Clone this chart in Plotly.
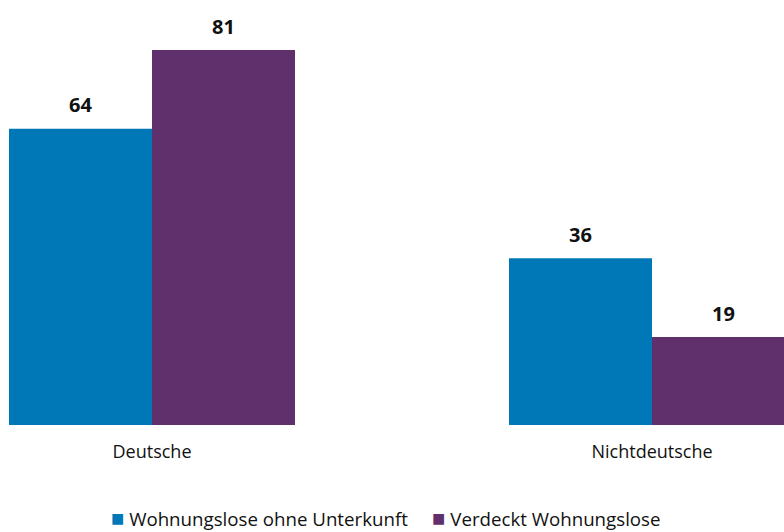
import plotly.graph_objects as go

categories = ["Deutsche", "Nichtdeutsche"]
series_names = ["Wohnungslose ohne Unterkunft", "Verdeckt Wohnungslose"]
ohne_unterkunft = [64, 36]
verdeckt = [81, 19]
colors = ["#0077b6", "#5f306c"]

FONT = "'Open Sans', sans-serif"

fig = go.Figure()
for name, values, color in zip(series_names, [ohne_unterkunft, verdeckt], colors):
    fig.add_trace(
        go.Bar(
            x=categories,
            y=values,
            name=name,
            marker=dict(color=color, line=dict(width=0)),
            hoverinfo="x+y+name",
        )
    )

# value labels above the bars
annotations = []
for i, values in enumerate([ohne_unterkunft, verdeckt]):
    shift = -71.5 if i == 0 else 71.5
    for cat, v in zip(categories, values):
        annotations.append(
            dict(
                x=cat, y=v, xref="x", yref="y",
                text=f"<b>{v}</b>", showarrow=False,
                xshift=shift, yshift=24,
                font=dict(size=20, color="#111111", family=FONT),
            )
        )

# compact legend (plotly's own legend leaves too much room after the swatch)
legend_text = "&nbsp;&nbsp;&nbsp;&nbsp;&nbsp;".join(
    f"<span style='color:{c}; font-size:22px'>■</span>&nbsp;{n}"
    for n, c in zip(series_names, colors)
)
annotations.append(
    dict(
        x=386 / 784, xref="paper", xanchor="center",
        y=-0.228, yref="paper", yanchor="middle",
        text=legend_text, showarrow=False,
        font=dict(size=18.7, color="#111111", family=FONT),
    )
)

fig.update_layout(
    width=784,
    height=532,
    barmode="group",
    bargap=0.428,
    bargroupgap=0,
    plot_bgcolor="white",
    paper_bgcolor="white",
    margin=dict(l=0, r=0, t=20, b=107),
    font=dict(family=FONT, size=16, color="#111111"),
    annotations=annotations,
    showlegend=False,
    xaxis=dict(
        range=[-0.304, 1.264],
        showgrid=False, zeroline=False, showline=False,
        ticks="", ticklabelstandoff=14,
        tickfont=dict(size=18, family=FONT),
    ),
    yaxis=dict(
        range=[0, 87.5],
        visible=False,
    ),
)

fig.write_html(
    "out.html",
    config={"displayModeBar": False},
    post_script="document.body.style.margin = '0';",
)
